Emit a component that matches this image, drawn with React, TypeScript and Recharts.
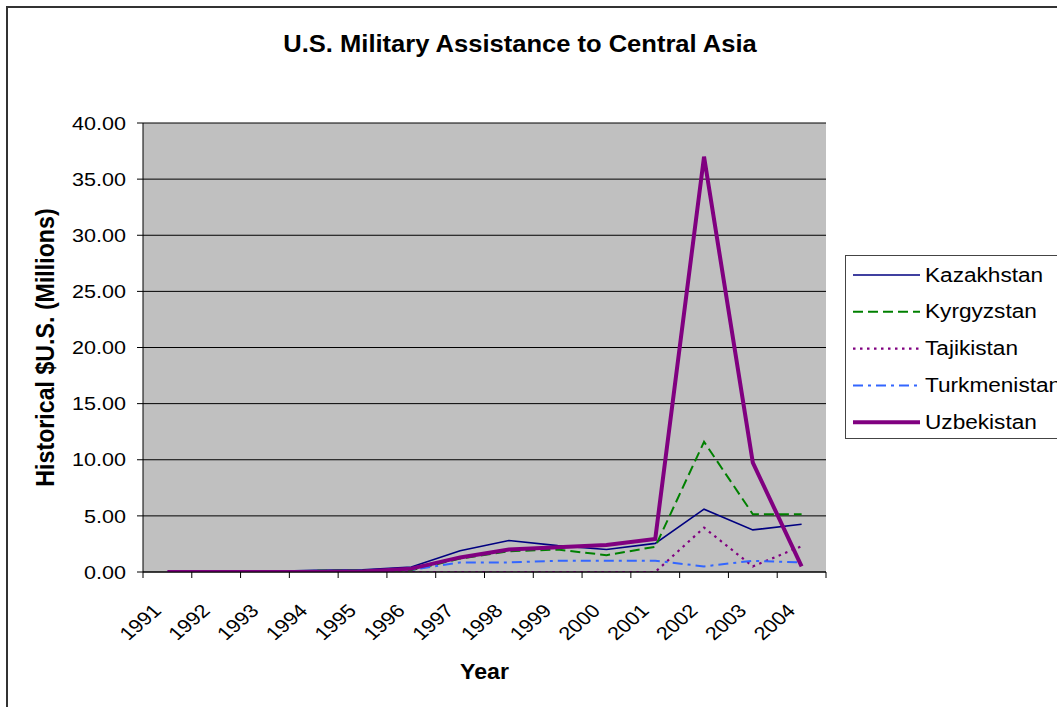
import React from 'react';
import { LineChart, Line, XAxis, YAxis, CartesianGrid, Legend, Label } from 'recharts';

const years = ['1991', '1992', '1993', '1994', '1995', '1996', '1997', '1998', '1999', '2000', '2001', '2002', '2003', '2004'];
const kazakhstan = [0, 0.02, 0.05, 0.15, 0.2, 0.45, 1.9, 2.8, 2.35, 2.0, 2.55, 5.6, 3.75, 4.25];
const kyrgyzstan = [0, 0, 0.02, 0.1, 0.12, 0.15, 1.2, 1.85, 2.0, 1.5, 2.25, 11.6, 5.15, 5.15];
const tajikistan = [0, 0, 0, 0, 0, 0, 0, 0, 0, 0, 0, 3.95, 0.5, 2.3];
const turkmenistan = [0, 0, 0, 0.1, 0.1, 0.2, 0.85, 0.85, 1.0, 1.0, 1.0, 0.5, 1.0, 0.85];
const uzbekistan = [0, 0, 0, 0, 0.05, 0.3, 1.3, 2.0, 2.2, 2.4, 2.95, 37.0, 9.75, 0.5];
const yTicks = [0, 5, 10, 15, 20, 25, 30, 35, 40];

const seriesNames = ['Kazakhstan', 'Kyrgyzstan', 'Tajikistan', 'Turkmenistan', 'Uzbekistan'];
const seriesValues = [kazakhstan, kyrgyzstan, tajikistan, turkmenistan, uzbekistan];

const data = years.map((year, i) => {
  const row: any = { year };
  seriesNames.forEach((n, k) => {
    row[n] = seriesValues[k][i];
  });
  return row;
});

const styles: Record<string, { color: string; width: number; dash?: string }> = {
  Kazakhstan: { color: '#000080', width: 1.6 },
  Kyrgyzstan: { color: '#008000', width: 2, dash: '10 5' },
  Tajikistan: { color: '#800080', width: 2.2, dash: '2.5 4.5' },
  Turkmenistan: { color: '#3366FF', width: 2, dash: '10 5 3 5' },
  Uzbekistan: { color: '#800080', width: 4 },
};

const FONT = '"Liberation Sans", Arial, Helvetica, sans-serif';

const XTick = (props: any) => {
  const { x, y, payload, index } = props;
  const axisW = props.width && props.width > 100 ? props.width : 683;
  const bw = axisW / years.length;
  return (
    <g>
      <line x1={x - bw / 2} y1={y} x2={x - bw / 2} y2={y + 6} stroke="#000" strokeWidth={1} />
      {index === years.length - 1 && (
        <line x1={x + bw / 2} y1={y} x2={x + bw / 2} y2={y + 6} stroke="#000" strokeWidth={1} />
      )}
      <g transform={`translate(${x - 5},${y + 40}) scale(1.16,1) rotate(-45)`}>
        <text x={0} y={0} textAnchor="end" fontSize={18.6} fontFamily={FONT} fill="#000">
          {payload.value}
        </text>
      </g>
    </g>
  );
};

const YTick = (props: any) => {
  const { x, y, payload } = props;
  return (
    <g transform={`translate(${x - 11},${y + 6.7}) scale(1.16,1)`}>
      <text x={0} y={0} textAnchor="end" fontSize={18.6} fontFamily={FONT} fill="#000">
        {Number(payload.value).toFixed(2)}
      </text>
    </g>
  );
};

const YLabel = (props: any) => {
  const vb = props.viewBox || { x: 43, y: 123, width: 100, height: 449 };
  const cx = vb.x + 10.5;
  const cy = vb.y + vb.height / 2;
  return (
    <g transform={`translate(${cx},${cy}) scale(1.1,1) rotate(-90)`}>
      <text x={0} y={0} textAnchor="middle" fontSize={23.2} fontWeight="bold" fontFamily={FONT} fill="#000">
        Historical $U.S. (Millions)
      </text>
    </g>
  );
};

const XLabel = (props: any) => {
  const vb = props.viewBox || { x: 143, y: 572, width: 683, height: 135 };
  const cx = vb.x + vb.width / 2;
  const cy = vb.y + 107;
  return (
    <g transform={`translate(${cx},${cy}) scale(1.08,1)`}>
      <text x={0} y={0} textAnchor="middle" fontSize={21.4} fontWeight="bold" fontFamily={FONT} fill="#000">
        Year
      </text>
    </g>
  );
};

const LegendBox = () => (
  <div
    style={{
      width: 240,
      height: 184,
      border: '1.5px solid #444',
      background: '#fff',
      boxSizing: 'border-box',
    }}
  >
    <svg width={240} height={182} style={{ display: 'block' }}>
      {seriesNames.map((n, i) => {
        const s = styles[n];
        const cy = 19 + i * 36.8;
        return (
          <g key={n}>
            <line
              x1={7}
              y1={cy}
              x2={74}
              y2={cy}
              stroke={s.color}
              strokeWidth={s.width}
              strokeDasharray={s.dash}
            />
            <g transform={`translate(79,${cy + 6.5}) scale(1.16,1)`}>
              <text x={0} y={0} fontSize={19.5} fontFamily={FONT} fill="#000">
                {n}
              </text>
            </g>
          </g>
        );
      })}
    </svg>
  </div>
);

export default function App() {
  return (
    <div
      style={{
        position: 'absolute',
        left: 0,
        top: 0,
        width: 1057,
        height: 707,
        overflow: 'hidden',
        background: '#fff',
        fontFamily: FONT,
      }}
    >
      <div
        style={{
          position: 'absolute',
          left: 6,
          top: 6,
          width: 1200,
          height: 800,
          border: '2px solid #333',
          boxSizing: 'border-box',
        }}
      />
      <div
        style={{
          position: 'absolute',
          left: 0,
          top: 31,
          width: 1040,
          textAlign: 'center',
          fontSize: 23,
          fontWeight: 'bold',
          lineHeight: '27px',
          color: '#000',
          transform: 'scaleX(1.11)',
          transformOrigin: '520px 0',
        }}
      >
        U.S. Military Assistance to Central Asia
      </div>
      <div style={{ position: 'absolute', left: 0, top: 0 }}>
        <LineChart width={1057} height={707} data={data} margin={{ top: 123, right: 231, bottom: 0, left: 43 }}>
          <CartesianGrid vertical={false} stroke="#000" strokeWidth={1} fill="#C0C0C0" fillOpacity={1} />
          <XAxis
            dataKey="year"
            scale="band"
            height={135}
            interval={0}
            tickLine={false}
            tickSize={0}
            tickMargin={0}
            axisLine={{ stroke: '#000', strokeWidth: 1 }}
            tick={<XTick />}
          >
            <Label content={<XLabel />} />
          </XAxis>
          <YAxis
            width={100}
            domain={[0, 40]}
            ticks={yTicks}
            interval={0}
            tickSize={6}
            tickMargin={0}
            tickLine={{ stroke: '#000', strokeWidth: 1 }}
            axisLine={{ stroke: '#000', strokeWidth: 1 }}
            tick={<YTick />}
            allowDataOverflow
          >
            <Label content={<YLabel />} />
          </YAxis>
          <YAxis
            yAxisId="right"
            orientation="right"
            width={0}
            domain={[0, 40]}
            tick={false}
            tickLine={false}
            axisLine={{ stroke: '#808080', strokeWidth: 1.5 }}
          />
          <Legend
            layout="vertical"
            align="center"
            verticalAlign="middle"
            wrapperStyle={{ position: 'absolute', left: 845, top: 255, width: 240, height: 184 }}
            content={<LegendBox />}
          />
          {seriesNames.map((n) => {
            const s = styles[n];
            return (
              <Line
                key={n}
                type="linear"
                dataKey={n}
                stroke={s.color}
                strokeWidth={s.width}
                strokeDasharray={s.dash}
                dot={false}
                activeDot={false}
                isAnimationActive={false}
              />
            );
          })}
        </LineChart>
      </div>
    </div>
  );
}
